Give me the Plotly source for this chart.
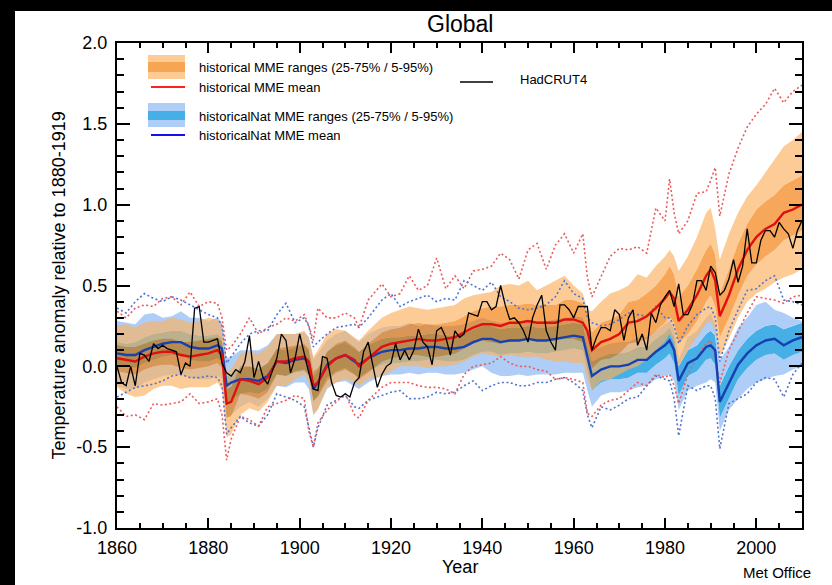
import plotly.graph_objects as go

# ---------------------------------------------------------------- data
# Years at which the model ensemble statistics are sampled
model_years = [
    1860, 1862, 1864, 1866, 1868, 1870, 1872, 1874, 1876, 1878,
    1880, 1882, 1883, 1884, 1885, 1887, 1889, 1891, 1893, 1895,
    1897, 1899, 1901, 1902, 1903, 1904, 1906, 1908, 1910, 1912,
    1913, 1915, 1918, 1920, 1922, 1924, 1926, 1928, 1930, 1932,
    1934, 1936, 1938, 1940, 1942, 1944, 1946, 1948, 1950, 1952,
    1954, 1956, 1958, 1960, 1962, 1963, 1964, 1966, 1968, 1970,
    1972, 1974, 1976, 1978, 1980, 1981, 1982, 1983, 1985, 1987,
    1989, 1990, 1991, 1992, 1994, 1996, 1998, 2000, 2002, 2004,
    2006, 2008, 2010,
]

# historical (all forcings) multi-model ensemble
hist_mean = [
    0.05, 0.04, 0.03, 0.06, 0.08, 0.09, 0.09, 0.07, 0.06, 0.07,
    0.08, 0.10, 0.07, -0.23, -0.22, -0.08, -0.09, -0.11, -0.07, 0.03,
    0.03, 0.05, 0.06, 0.03, -0.12, -0.10, 0.00, 0.05, 0.07, 0.04,
    0.00, 0.05, 0.12, 0.14, 0.15, 0.16, 0.17, 0.16, 0.16, 0.17,
    0.18, 0.21, 0.24, 0.26, 0.26, 0.25, 0.27, 0.27, 0.28, 0.27,
    0.27, 0.27, 0.29, 0.29, 0.27, 0.22, 0.10, 0.15, 0.17, 0.20,
    0.27, 0.28, 0.31, 0.36, 0.42, 0.46, 0.42, 0.28, 0.35, 0.44,
    0.56, 0.60, 0.53, 0.31, 0.44, 0.60, 0.72, 0.80, 0.85, 0.88,
    0.95, 0.97, 1.00,
]
hist_p95 = [
    0.25, 0.26, 0.24, 0.27, 0.28, 0.28, 0.30, 0.29, 0.27, 0.28,
    0.30, 0.29, 0.25, -0.03, -0.02, 0.08, 0.09, 0.08, 0.12, 0.20,
    0.20, 0.20, 0.22, 0.18, 0.06, 0.10, 0.20, 0.23, 0.22, 0.18,
    0.16, 0.22, 0.30, 0.33, 0.35, 0.37, 0.36, 0.35, 0.36, 0.37,
    0.38, 0.42, 0.44, 0.45, 0.46, 0.50, 0.51, 0.50, 0.53, 0.47,
    0.50, 0.53, 0.56, 0.50, 0.45, 0.35, 0.34, 0.40, 0.45, 0.47,
    0.50, 0.57, 0.55, 0.62, 0.68, 0.72, 0.68, 0.59, 0.68, 0.80,
    0.95, 0.98, 0.85, 0.66, 0.82, 0.95, 1.05, 1.12, 1.20, 1.28,
    1.36, 1.40, 1.45,
]
hist_p75 = [
    0.13, 0.12, 0.12, 0.14, 0.16, 0.17, 0.17, 0.15, 0.15, 0.16,
    0.17, 0.18, 0.15, -0.14, -0.13, 0.00, 0.00, -0.02, 0.02, 0.11,
    0.12, 0.13, 0.14, 0.11, -0.03, -0.01, 0.09, 0.14, 0.16, 0.12,
    0.09, 0.14, 0.21, 0.23, 0.24, 0.26, 0.27, 0.26, 0.26, 0.27,
    0.28, 0.31, 0.34, 0.36, 0.37, 0.37, 0.38, 0.38, 0.39, 0.38,
    0.38, 0.38, 0.41, 0.41, 0.39, 0.33, 0.21, 0.27, 0.29, 0.32,
    0.40, 0.41, 0.45, 0.50, 0.57, 0.62, 0.57, 0.43, 0.50, 0.60,
    0.72, 0.76, 0.69, 0.45, 0.60, 0.76, 0.88, 0.97, 1.02, 1.06,
    1.12, 1.15, 1.18,
]
hist_p25 = [
    -0.03, -0.04, -0.05, -0.02, 0.00, 0.01, 0.01, -0.01, -0.02, -0.01,
    0.00, 0.02, -0.01, -0.32, -0.31, -0.17, -0.18, -0.20, -0.16, -0.05,
    -0.06, -0.03, -0.02, -0.05, -0.21, -0.19, -0.09, -0.04, -0.02, -0.05,
    -0.08, -0.04, 0.03, 0.05, 0.06, 0.07, 0.07, 0.06, 0.06, 0.07,
    0.08, 0.11, 0.14, 0.16, 0.15, 0.14, 0.16, 0.16, 0.17, 0.16,
    0.16, 0.16, 0.17, 0.17, 0.15, 0.10, -0.01, 0.04, 0.05, 0.08,
    0.14, 0.15, 0.17, 0.22, 0.27, 0.31, 0.27, 0.14, 0.20, 0.28,
    0.40, 0.44, 0.37, 0.18, 0.30, 0.44, 0.56, 0.63, 0.68, 0.72,
    0.78, 0.81, 0.84,
]
hist_p5 = [
    -0.13, -0.17, -0.19, -0.18, -0.14, -0.12, -0.12, -0.14, -0.13, -0.13,
    -0.13, -0.10, -0.15, -0.44, -0.42, -0.30, -0.26, -0.28, -0.22, -0.12,
    -0.12, -0.08, -0.05, -0.10, -0.30, -0.27, -0.13, -0.10, -0.08, -0.10,
    -0.12, -0.08, -0.06, -0.03, 0.00, 0.00, 0.00, -0.01, 0.00, 0.00,
    0.01, 0.03, 0.06, 0.08, 0.07, 0.06, 0.07, 0.06, 0.06, 0.06,
    0.04, 0.03, 0.03, 0.02, 0.02, -0.08, -0.15, -0.09, -0.08, -0.05,
    -0.02, 0.00, 0.04, 0.10, 0.15, 0.20, 0.14, 0.00, 0.10, 0.18,
    0.26, 0.28, 0.22, 0.06, 0.17, 0.30, 0.40, 0.45, 0.48, 0.52,
    0.55, 0.57, 0.60,
]
hist_max = [
    0.34, 0.30, 0.36, 0.38, 0.37, 0.42, 0.43, 0.38, 0.46, 0.37,
    0.40, 0.39, 0.30, 0.10, 0.12, 0.20, 0.30, 0.20, 0.24, 0.26,
    0.30, 0.28, 0.32, 0.25, 0.16, 0.36, 0.30, 0.30, 0.33, 0.30,
    0.24, 0.41, 0.51, 0.43, 0.45, 0.56, 0.47, 0.50, 0.67, 0.48,
    0.56, 0.48, 0.59, 0.60, 0.62, 0.70, 0.66, 0.54, 0.72, 0.76,
    0.60, 0.75, 0.82, 0.70, 0.82, 0.55, 0.43, 0.55, 0.68, 0.73,
    0.72, 0.74, 0.70, 0.98, 0.90, 1.16, 0.95, 0.82, 0.90, 1.07,
    1.08, 1.15, 1.23, 0.93, 1.19, 1.35, 1.48, 1.56, 1.62, 1.72,
    1.63, 1.70, 1.74,
]
hist_min = [
    -0.25, -0.31, -0.30, -0.33, -0.23, -0.24, -0.23, -0.22, -0.17, -0.23,
    -0.22, -0.20, -0.30, -0.58, -0.45, -0.31, -0.33, -0.37, -0.25, -0.23,
    -0.21, -0.18, -0.20, -0.40, -0.50, -0.35, -0.27, -0.22, -0.17, -0.30,
    -0.32, -0.21, -0.13, -0.10, -0.10, -0.10, -0.12, -0.13, -0.13, -0.14,
    -0.17, -0.05, 0.00, 0.01, 0.02, 0.06, 0.02, 0.00, 0.00, -0.02,
    -0.03, -0.08, -0.07, -0.08, -0.10, -0.29, -0.31, -0.24, -0.21, -0.20,
    -0.15, -0.10, -0.12, -0.05, -0.07, -0.05, -0.12, -0.23, -0.05, 0.06,
    0.14, 0.16, 0.05, -0.10, 0.10, 0.22, 0.33, 0.43, 0.42, 0.41,
    0.39, 0.43, 0.44,
]

# historicalNat (natural forcings only) multi-model ensemble
nat_mean = [
    0.08, 0.07, 0.07, 0.10, 0.12, 0.14, 0.15, 0.15, 0.12, 0.11,
    0.11, 0.13, 0.11, -0.12, -0.10, -0.08, -0.08, -0.09, -0.06, 0.03,
    0.02, 0.04, 0.05, 0.02, -0.14, -0.10, 0.01, 0.05, 0.07, 0.03,
    0.01, 0.05, 0.09, 0.10, 0.10, 0.11, 0.11, 0.12, 0.12, 0.11,
    0.11, 0.12, 0.15, 0.17, 0.17, 0.15, 0.16, 0.16, 0.17, 0.16,
    0.16, 0.17, 0.18, 0.19, 0.18, 0.05, -0.06, -0.02, 0.00, 0.00,
    0.01, 0.04, 0.04, 0.09, 0.13, 0.16, 0.10, -0.09, 0.02, 0.05,
    0.12, 0.13, 0.10, -0.22, -0.10, 0.01, 0.08, 0.13, 0.16, 0.17,
    0.13, 0.16, 0.18,
]
nat_p95 = [
    0.28, 0.27, 0.26, 0.32, 0.33, 0.30, 0.31, 0.34, 0.30, 0.30,
    0.28, 0.30, 0.27, 0.05, 0.06, 0.10, 0.10, 0.10, 0.13, 0.20,
    0.20, 0.20, 0.21, 0.18, 0.04, 0.08, 0.16, 0.20, 0.22, 0.17,
    0.15, 0.20, 0.24, 0.25, 0.25, 0.27, 0.25, 0.26, 0.25, 0.25,
    0.25, 0.26, 0.28, 0.30, 0.28, 0.27, 0.27, 0.28, 0.28, 0.28,
    0.28, 0.29, 0.30, 0.31, 0.30, 0.20, 0.10, 0.12, 0.14, 0.15,
    0.15, 0.18, 0.18, 0.22, 0.26, 0.28, 0.24, 0.04, 0.18, 0.22,
    0.30, 0.33, 0.25, 0.04, 0.12, 0.24, 0.30, 0.38, 0.40, 0.35,
    0.33, 0.30, 0.28,
]
nat_p75 = [
    0.15, 0.14, 0.15, 0.18, 0.20, 0.21, 0.22, 0.22, 0.20, 0.19,
    0.19, 0.20, 0.18, -0.06, -0.05, -0.01, 0.00, -0.01, 0.02, 0.11,
    0.10, 0.12, 0.13, 0.10, -0.06, -0.02, 0.09, 0.13, 0.15, 0.11,
    0.09, 0.13, 0.17, 0.18, 0.18, 0.19, 0.19, 0.20, 0.20, 0.19,
    0.19, 0.20, 0.23, 0.25, 0.25, 0.23, 0.24, 0.24, 0.25, 0.24,
    0.24, 0.25, 0.26, 0.27, 0.26, 0.13, 0.03, 0.06, 0.08, 0.08,
    0.09, 0.12, 0.12, 0.17, 0.21, 0.24, 0.18, 0.00, 0.10, 0.13,
    0.20, 0.22, 0.19, -0.12, 0.00, 0.10, 0.17, 0.22, 0.25, 0.26,
    0.23, 0.25, 0.27,
]
nat_p25 = [
    0.01, 0.00, -0.01, 0.02, 0.04, 0.06, 0.07, 0.07, 0.04, 0.03,
    0.03, 0.05, 0.03, -0.22, -0.21, -0.17, -0.16, -0.17, -0.14, -0.05,
    -0.06, -0.04, -0.03, -0.06, -0.22, -0.18, -0.07, -0.03, -0.01, -0.05,
    -0.07, -0.03, 0.01, 0.02, 0.02, 0.03, 0.03, 0.04, 0.04, 0.03,
    0.03, 0.04, 0.07, 0.09, 0.09, 0.07, 0.08, 0.08, 0.09, 0.08,
    0.08, 0.09, 0.10, 0.11, 0.10, -0.03, -0.15, -0.10, -0.08, -0.08,
    -0.07, -0.04, -0.04, 0.01, 0.05, 0.08, 0.02, -0.18, -0.06, -0.03,
    0.04, 0.05, 0.01, -0.32, -0.20, -0.08, -0.01, 0.04, 0.07, 0.08,
    0.04, 0.07, 0.09,
]
nat_p5 = [
    -0.12, -0.14, -0.14, -0.10, -0.08, -0.06, -0.05, -0.05, -0.07, -0.08,
    -0.08, -0.06, -0.08, -0.32, -0.30, -0.25, -0.22, -0.25, -0.20, -0.12,
    -0.13, -0.10, -0.10, -0.14, -0.30, -0.26, -0.14, -0.10, -0.09, -0.12,
    -0.14, -0.10, -0.06, -0.05, -0.05, -0.04, -0.05, -0.04, -0.04, -0.05,
    -0.05, -0.04, -0.02, 0.00, -0.04, -0.06, -0.06, -0.05, -0.06, -0.05,
    -0.05, -0.05, -0.04, -0.04, -0.04, -0.15, -0.25, -0.18, -0.16, -0.16,
    -0.15, -0.13, -0.12, -0.08, -0.06, -0.05, -0.09, -0.27, -0.15, -0.12,
    -0.10, -0.08, -0.10, -0.40, -0.27, -0.20, -0.14, -0.10, -0.08, -0.06,
    -0.05, -0.02, 0.00,
]
nat_max = [
    0.36, 0.33, 0.40, 0.45, 0.42, 0.40, 0.43, 0.41, 0.38, 0.35,
    0.32, 0.30, 0.25, 0.02, 0.06, 0.14, 0.20, 0.22, 0.22, 0.32,
    0.39, 0.27, 0.30, 0.25, 0.12, 0.15, 0.20, 0.24, 0.25, 0.26,
    0.24, 0.30, 0.41, 0.45, 0.37, 0.40, 0.42, 0.44, 0.40, 0.42,
    0.41, 0.53, 0.50, 0.47, 0.52, 0.43, 0.40, 0.36, 0.35, 0.36,
    0.38, 0.43, 0.53, 0.45, 0.42, 0.30, 0.27, 0.25, 0.26, 0.29,
    0.33, 0.32, 0.31, 0.37, 0.30, 0.30, 0.25, 0.14, 0.25, 0.32,
    0.36, 0.37, 0.30, 0.03, 0.22, 0.35, 0.47, 0.48, 0.53, 0.56,
    0.41, 0.40, 0.38,
]
nat_min = [
    -0.19, -0.16, -0.13, -0.12, -0.11, -0.09, -0.06, -0.05, -0.07, -0.07,
    -0.06, -0.07, -0.12, -0.42, -0.38, -0.31, -0.35, -0.37, -0.30, -0.17,
    -0.19, -0.21, -0.25, -0.38, -0.50, -0.38, -0.24, -0.21, -0.18, -0.25,
    -0.26, -0.21, -0.18, -0.16, -0.15, -0.20, -0.20, -0.19, -0.16, -0.17,
    -0.16, -0.12, -0.09, -0.15, -0.12, -0.10, -0.10, -0.12, -0.12, -0.10,
    -0.10, -0.08, -0.07, -0.10, -0.15, -0.30, -0.38, -0.25, -0.27, -0.24,
    -0.20, -0.19, -0.12, -0.06, -0.08, -0.09, -0.20, -0.43, -0.12, -0.15,
    -0.12, -0.12, -0.20, -0.51, -0.23, -0.20, -0.17, -0.10, -0.07, -0.08,
    -0.19, -0.05, 0.02,
]

# HadCRUT4 observations, annual means
obs_years = list(range(1860, 2011))
hadcrut4 = [
    0.00, -0.10, -0.12, 0.00, -0.12, 0.08, 0.07, 0.03, 0.14, 0.11,
    0.13, 0.11, 0.10, 0.09, -0.05, 0.02, 0.00, 0.36, 0.37, 0.15,
    0.15, 0.16, 0.17, 0.02, -0.04, -0.06, -0.02, -0.04, 0.03, 0.19,
    -0.07, 0.03, -0.07, -0.11, -0.03, 0.05, 0.20, 0.16, -0.04, 0.05,
    0.20, 0.07, -0.04, -0.14, -0.15, 0.06, 0.05, -0.10, -0.18, -0.19,
    -0.17, -0.19, -0.10, -0.07, 0.09, 0.15, 0.00, -0.13, -0.05, 0.00,
    0.02, 0.14, 0.04, 0.10, 0.04, 0.10, 0.23, 0.15, 0.12, 0.01,
    0.22, 0.24, 0.18, 0.07, 0.22, 0.18, 0.20, 0.33, 0.32, 0.31,
    0.40, 0.40, 0.35, 0.37, 0.50, 0.38, 0.29, 0.30, 0.27, 0.22,
    0.15, 0.30, 0.38, 0.44, 0.22, 0.15, 0.10, 0.38, 0.38, 0.35,
    0.30, 0.37, 0.37, 0.37, 0.10, 0.18, 0.24, 0.24, 0.22, 0.35,
    0.32, 0.16, 0.30, 0.35, 0.13, 0.20, 0.10, 0.33, 0.27, 0.38,
    0.43, 0.47, 0.37, 0.51, 0.32, 0.32, 0.38, 0.53, 0.53, 0.47,
    0.62, 0.58, 0.44, 0.47, 0.54, 0.66, 0.52, 0.62, 0.85, 0.64,
    0.64, 0.78, 0.84, 0.84, 0.80, 0.89, 0.85, 0.82, 0.73, 0.84,
    0.90,
]

y_tick_values = [-1.0, -0.5, 0.0, 0.5, 1.0, 1.5, 2.0]
y_tick_labels = ["-1.0", "-0.5", "0.0", "0.5", "1.0", "1.5", "2.0"]
x_tick_values = [1860, 1880, 1900, 1920, 1940, 1960, 1980, 2000]

# ---------------------------------------------------------------- style
FONT = "Liberation Sans, Arial, Helvetica, sans-serif"
ORANGE_LIGHT = "rgba(252,177,93,0.65)"
ORANGE_MID = "rgba(241,120,0,0.65)"
BLUE_LIGHT = "rgb(174,206,248)"
BLUE_MID = "rgb(70,176,230)"
RED_MEAN = "#e01010"
BLUE_MEAN = "#1840b0"
RED_DOT = "rgb(236,90,90)"
BLUE_DOT = "rgb(80,115,210)"
DOTS = "2px,2.5px"

fig = go.Figure()


def add_ranges(x, p5, p25, p75, p95, light, mid):
    """Stack the 5-25, 25-75 and 75-95 % ranges as separate filled strips."""
    fig.add_trace(go.Scatter(x=x, y=p5, mode="lines", line=dict(width=0),
                             hoverinfo="skip", showlegend=False))
    for upper, colour in ((p25, light), (p75, mid), (p95, light)):
        fig.add_trace(go.Scatter(x=x, y=upper, mode="lines", line=dict(width=0),
                                 fill="tonexty", fillcolor=colour,
                                 hoverinfo="skip", showlegend=False))


add_ranges(model_years, nat_p5, nat_p25, nat_p75, nat_p95, BLUE_LIGHT, BLUE_MID)
add_ranges(model_years, hist_p5, hist_p25, hist_p75, hist_p95, ORANGE_LIGHT, ORANGE_MID)

for series, colour in ((nat_max, BLUE_DOT), (nat_min, BLUE_DOT),
                       (hist_max, RED_DOT), (hist_min, RED_DOT)):
    fig.add_trace(go.Scatter(x=model_years, y=series, mode="lines",
                             line=dict(color=colour, width=1.6, dash=DOTS),
                             showlegend=False))

fig.add_trace(go.Scatter(x=model_years, y=nat_mean, mode="lines",
                         line=dict(color=BLUE_MEAN, width=2.4), showlegend=False))
fig.add_trace(go.Scatter(x=model_years, y=hist_mean, mode="lines",
                         line=dict(color=RED_MEAN, width=2.4), showlegend=False))
fig.add_trace(go.Scatter(x=obs_years, y=hadcrut4, mode="lines",
                         line=dict(color="black", width=1.3), showlegend=False))

# ---------------------------------------------------------------- legend (drawn by hand)
shapes = []
annotations = []


def paper_x(px):
    return (px - 117) / 685.0


def paper_y(py):
    return (528 - py) / 485.0


def swatch(top, bottom, inner_top, inner_bottom, light, mid):
    shapes.append(dict(type="rect", xref="paper", yref="paper",
                       x0=paper_x(148), x1=paper_x(185),
                       y0=paper_y(bottom), y1=paper_y(top),
                       fillcolor=light, line=dict(width=0)))
    shapes.append(dict(type="rect", xref="paper", yref="paper",
                       x0=paper_x(148), x1=paper_x(185),
                       y0=paper_y(inner_bottom), y1=paper_y(inner_top),
                       fillcolor=mid, line=dict(width=0)))


def legend_line(x0, x1, py, colour, width):
    shapes.append(dict(type="line", xref="paper", yref="paper",
                       x0=paper_x(x0), x1=paper_x(x1),
                       y0=paper_y(py), y1=paper_y(py),
                       line=dict(color=colour, width=width)))


def legend_text(px, py, text):
    annotations.append(dict(xref="paper", yref="paper", x=paper_x(px), y=paper_y(py),
                            text=text, showarrow=False, xanchor="left",
                            yanchor="middle", font=dict(size=13, color="black")))


swatch(55, 79, 62, 72, "rgb(253,204,150)", "rgb(246,166,80)")
legend_text(197, 67, "historical MME ranges (25-75% / 5-95%)")
legend_line(151, 185, 87, "#ff2020", 2)
legend_text(197, 87, "historical MME mean")

swatch(103, 127, 111, 120, BLUE_LIGHT, BLUE_MID)
legend_text(197, 116, "historicalNat MME ranges (25-75% / 5-95%)")
legend_line(151, 185, 135, "#1010f0", 2)
legend_text(197, 135, "historicalNat MME mean")

legend_line(460, 493, 82, "black", 1.5)
legend_text(518, 80, "HadCRUT4")

# black frame strips along the top and left edges of the page
shapes.append(dict(type="rect", xref="paper", yref="paper",
                   x0=paper_x(0), x1=paper_x(15), y0=paper_y(585), y1=paper_y(0),
                   fillcolor="black", line=dict(width=0)))
shapes.append(dict(type="rect", xref="paper", yref="paper",
                   x0=paper_x(0), x1=paper_x(832), y0=paper_y(11), y1=paper_y(0),
                   fillcolor="black", line=dict(width=0)))

annotations += [
    dict(xref="paper", yref="paper", x=0.5, y=paper_y(24), text="Global",
         showarrow=False, xanchor="center", yanchor="middle",
         font=dict(size=23, color="black")),
    dict(xref="paper", yref="paper", x=0.5, y=paper_y(567), text="Year",
         showarrow=False, xanchor="center", yanchor="middle",
         font=dict(size=18, color="black")),
    dict(xref="paper", yref="paper", x=paper_x(58), y=0.5,
         text="Temperature anomaly relative to 1880-1919", textangle=-90,
         showarrow=False, xanchor="center", yanchor="middle",
         font=dict(size=18, color="black")),
    dict(xref="paper", yref="paper", x=paper_x(777), y=paper_y(572), text="Met Office",
         showarrow=False, xanchor="center", yanchor="middle",
         font=dict(size=15, color="black")),
]

axis_common = dict(showline=True, linecolor="black", linewidth=2, mirror="allticks",
                   ticks="inside", tickcolor="black", tickwidth=2, showgrid=False,
                   zeroline=False, tickfont=dict(size=18, color="black"),
                   automargin=False)

fig.update_layout(
    width=832, height=585,
    margin=dict(l=117, r=30, t=43, b=57, pad=0),
    paper_bgcolor="white", plot_bgcolor="white",
    template="none",
    font=dict(family=FONT, color="black"),
    showlegend=False,
    shapes=shapes, annotations=annotations,
    xaxis=dict(range=[1860, 2010], tickmode="array", tickvals=x_tick_values,
               ticklen=10, ticklabelstandoff=2,
               minor=dict(tickmode="linear", tick0=1860, dtick=5, ticks="inside",
                          ticklen=5, tickwidth=2, tickcolor="black", showgrid=False),
               **axis_common),
    yaxis=dict(range=[-1.0, 2.0], tickmode="array", tickvals=y_tick_values,
               ticktext=y_tick_labels, ticklen=13, ticklabelstandoff=4,
               minor=dict(tickmode="linear", tick0=0, dtick=0.1, ticks="inside",
                          ticklen=7, tickwidth=2, tickcolor="black", showgrid=False),
               **axis_common),
)

fig.write_html("out.html")
